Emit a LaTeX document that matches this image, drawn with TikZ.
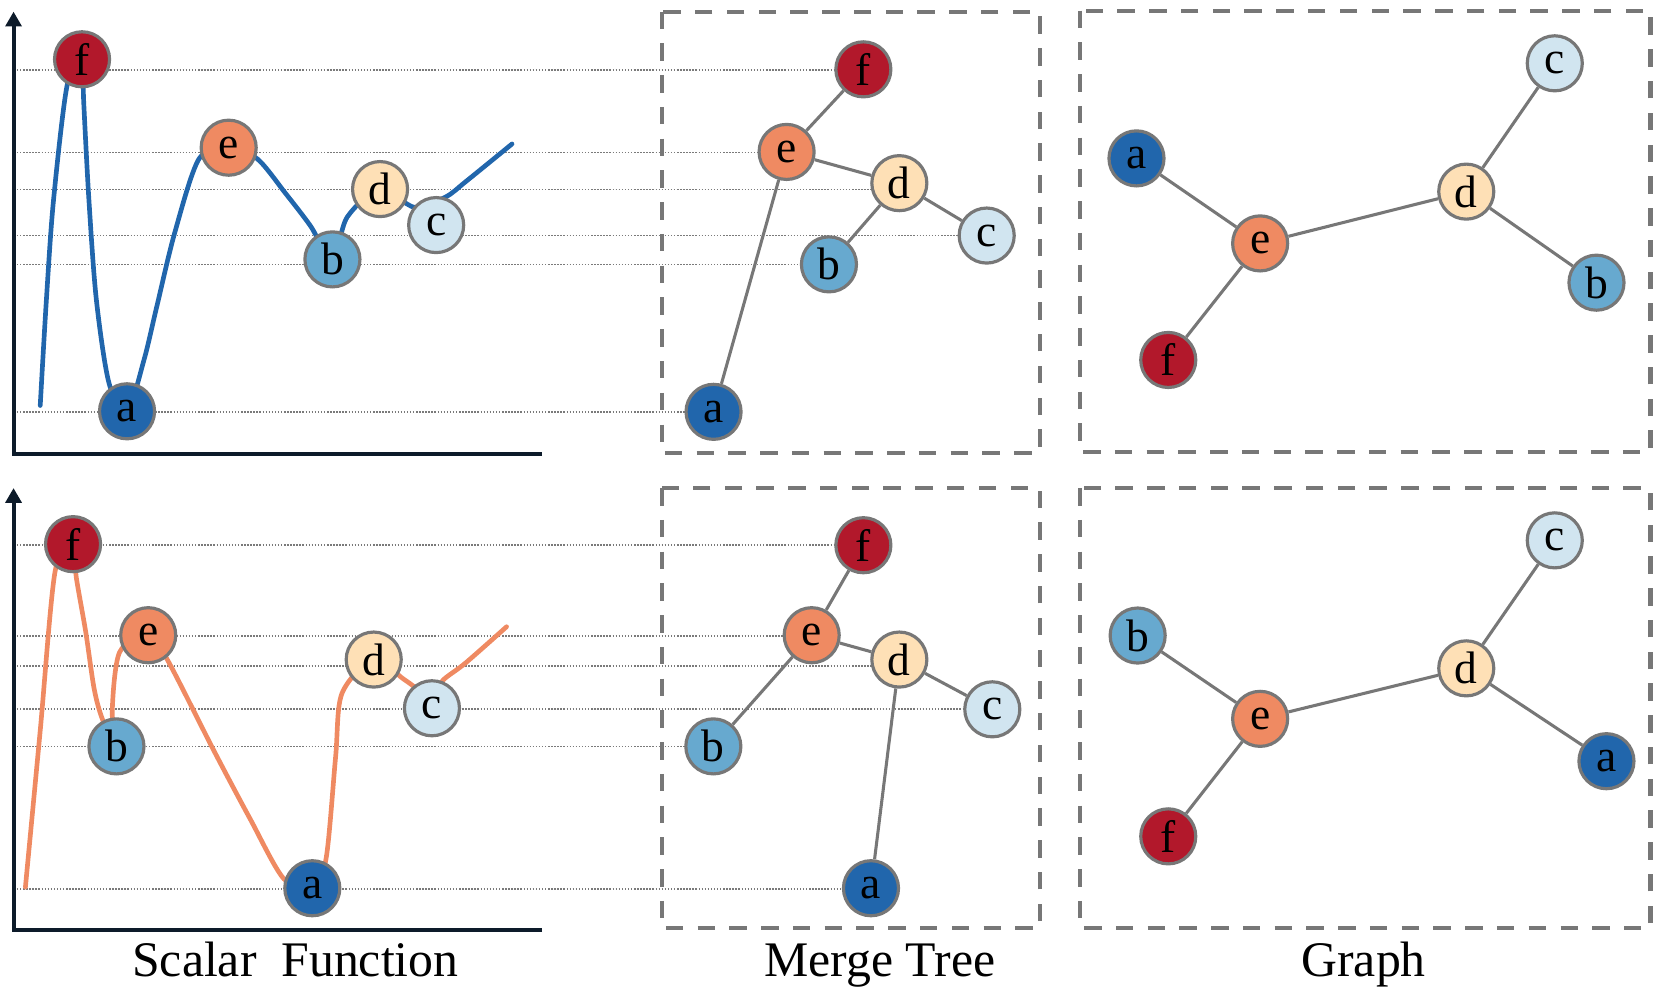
\documentclass[tikz,border=0pt]{standalone}
\usepackage{fontspec}
\setmainfont{Liberation Serif}
\usetikzlibrary{arrows.meta}
\definecolor{cf}{HTML}{B2182B}
\definecolor{ce}{HTML}{EF8A62}
\definecolor{cd}{HTML}{FEE0B6}
\definecolor{cc}{HTML}{D1E5F0}
\definecolor{cb}{HTML}{67A9CF}
\definecolor{ca}{HTML}{2166AC}
\definecolor{edgegray}{HTML}{777777}
\definecolor{guidegray}{HTML}{7A7A7A}
\definecolor{axiscol}{HTML}{0D1B2A}
\pgfdeclarelayer{bg}
\pgfsetlayers{bg,main}
\tikzset{
  vtx/.style={circle, draw=edgegray, line width=3pt, minimum size=52pt, inner sep=0pt,
              font=\fontsize{43}{43}\selectfont},
  va/.style={vtx, fill=ca}, vb/.style={vtx, fill=cb}, vc/.style={vtx, fill=cc},
  vd/.style={vtx, fill=cd}, ve/.style={vtx, fill=ce}, vf/.style={vtx, fill=cf},
  guide/.style={draw=guidegray, line width=1.6pt, dash pattern=on 1.4pt off 1.5pt},
  edge/.style={draw=edgegray, line width=2.9pt},
  framebox/.style={draw=edgegray, line width=3.8pt, dash pattern=on 16.5pt off 13.5pt},
  axisline/.style={draw=axiscol, line width=3.8pt},
  curveA/.style={draw=ca, line width=4.4pt, line cap=round},
  curveB/.style={draw=ce, line width=4.4pt, line cap=round},
  lab/.style={font=\fontsize{47}{47}\selectfont, inner sep=0pt, anchor=base}
}
\begin{document}
\begin{tikzpicture}[x=1pt,y=-1pt]
\useasboundingbox (0,0) rectangle (1568,946);

% ---------------- top row ----------------
\node[vf] (s1f) at (77.5,56) {f};
\node[ve] (s1e) at (216,139.5) {e};
\node[vd] (s1d) at (359,178.6) {d};
\node[vc] (s1c) at (412,212.6) {c};
\node[vb] (s1b) at (314,245) {b};
\node[va] (s1a) at (120,388.5) {a};

\node[vf] (m1f) at (815.5,65.5) {f};
\node[ve] (m1e) at (743,143.5) {e};
\node[vd] (m1d) at (849.5,173) {d};
\node[vc] (m1c) at (932,222.5) {c};
\node[vb] (m1b) at (783,249.7) {b};
\node[va] (m1a) at (674,389) {a};

\node[vc] (g1c) at (1468.6,59.8) {c};
\node[va] (g1a) at (1073.5,149.6) {a};
\node[vd] (g1d) at (1385,181) {d};
\node[ve] (g1e) at (1190.3,229.9) {e};
\node[vb] (g1b) at (1508,267) {b};
\node[vf] (g1f) at (1103.5,340) {f};

% ---------------- bottom row ----------------
\node[vf] (s2f) at (69,514) {f};
\node[ve] (s2e) at (140,600) {e};
\node[vd] (s2d) at (353,623) {d};
\node[vc] (s2c) at (408,669) {c};
\node[vb] (s2b) at (110,705) {b};
\node[va] (s2a) at (295,839) {a};

\node[vf] (m2f) at (815.5,515) {f};
\node[ve] (m2e) at (766.7,600) {e};
\node[vd] (m2d) at (849.5,623) {d};
\node[vc] (m2c) at (937.3,670) {c};
\node[vb] (m2b) at (673.8,705) {b};
\node[va] (m2a) at (822.7,839) {a};

\node[vc] (g2c) at (1468.6,510.4) {c};
\node[vb] (g2b) at (1074.6,600.3) {b};
\node[vd] (g2d) at (1385,631.3) {d};
\node[ve] (g2e) at (1190.3,679) {e};
\node[va] (g2a) at (1517.4,719) {a};
\node[vf] (g2f) at (1103.5,790) {f};

% labels
\node[lab] (t1) at (279,922) {Scalar\ \ Function};
\node[lab] (t2) at (831,922) {Merge Tree};
\node[lab] (t3) at (1288,922) {Graph};

\begin{pgfonlayer}{bg}
  \coordinate (L1f) at (16,66.2);
  \coordinate (L1e) at (16,144);
  \coordinate (L1d) at (16,179);
  \coordinate (L1c) at (16,222.5);
  \coordinate (L1b) at (16,249.8);
  \coordinate (L1a) at (16,389);
  \draw[guide] (L1f) -- (L1f -| m1f);
  \draw[guide] (L1e) -- (L1e -| m1e);
  \draw[guide] (L1d) -- (L1d -| m1d);
  \draw[guide] (L1c) -- (L1c -| m1c);
  \draw[guide] (L1b) -- (L1b -| m1b);
  \draw[guide] (L1a) -- (L1a -| m1a);
  \coordinate (L2f) at (16,515);
  \coordinate (L2e) at (16,601);
  \coordinate (L2d) at (16,629);
  \coordinate (L2c) at (16,670);
  \coordinate (L2b) at (16,705);
  \coordinate (L2a) at (16,840);
  \draw[guide] (L2f) -- (L2f -| m2f);
  \draw[guide] (L2e) -- (L2e -| m2e);
  \draw[guide] (L2d) -- (L2d -| m2d);
  \draw[guide] (L2c) -- (L2c -| m2c);
  \draw[guide] (L2b) -- (L2b -| m2b);
  \draw[guide] (L2a) -- (L2a -| m2a);

  \draw[axisline, -{Triangle[width=15pt,length=14pt]}] (512,428.4) -- (12.8,428.4) -- (12.8,11);
  \draw[axisline, -{Triangle[width=15pt,length=14pt]}] (512,878.5) -- (12.8,878.5) -- (12.8,461);

  \draw[curveA] plot[smooth, tension=0.5] coordinates {
    (38,383) (43.8,283.5) (50.5,189.6) (63.4,80.6) (77.5,56) (79,95) (84,189) (91,283)
    (103,362) (120,388.5) (136,340) (148,290) (165,220) (188,150) (216,139.5)
    (243,150) (270,183) (293,213) (314,245) (328,205) (359,178.6) (392,196)
    (421,186) (440,171.5) (483.6,136)};
  \draw[curveB] plot[smooth, tension=0.5] coordinates {
    (24,838) (38,690) (52,540) (69,514) (72,545) (81,597) (89,651) (97,680)
    (110,705) (106,672) (113,616) (140,600) (158,623) (202,709) (236,773)
    (268,830) (295,839) (308,811) (317,715) (323,655) (353,623) (382,642)
    (405,656) (420,641) (440,626) (478.5,592)};

  \draw[edge] (m1f) -- (m1e);
  \draw[edge] (m1e) -- (m1d);
  \draw[edge] (m1d) -- (m1c);
  \draw[edge] (m1d) -- (m1b);
  \draw[edge] (m1e) -- (m1a);
  \draw[edge] (m2f) -- (m2e);
  \draw[edge] (m2e) -- (m2d);
  \draw[edge] (m2e) -- (m2b);
  \draw[edge] (m2d) -- (m2c);
  \draw[edge] (m2d) -- (m2a);
  \draw[edge] (g1a) -- (g1e);
  \draw[edge] (g1e) -- (g1d);
  \draw[edge] (g1d) -- (g1c);
  \draw[edge] (g1d) -- (g1b);
  \draw[edge] (g1e) -- (g1f);
  \draw[edge] (g2b) -- (g2e);
  \draw[edge] (g2e) -- (g2d);
  \draw[edge] (g2d) -- (g2c);
  \draw[edge] (g2d) -- (g2a);
  \draw[edge] (g2e) -- (g2f);

  \draw[framebox] (625,11) rectangle (982,428);
  \draw[framebox] (1020,10) rectangle (1559,427);
  \draw[framebox] (625,461) rectangle (982,877);
  \draw[framebox] (1020,461) rectangle (1559,877);
\end{pgfonlayer}
\end{tikzpicture}
\end{document}
